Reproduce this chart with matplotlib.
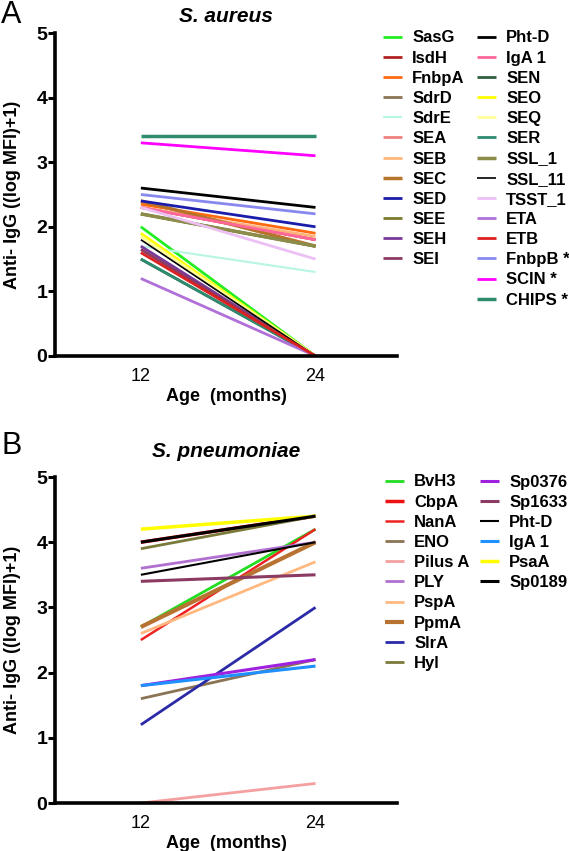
import matplotlib
matplotlib.use("Agg")
import matplotlib.pyplot as plt

plt.rcParams['font.family'] = ['Liberation Sans', 'DejaVu Sans']

ages = [12, 24]
age_labels = ["12", "24"]
y_ticks = [0, 1, 2, 3, 4, 5]

# Panel A: S. aureus
a_names = ["SasG", "IsdH", "FnbpA", "SdrD", "SdrE", "SEA", "SEB", "SEC", "SED", "SEE", "SEH", "SEI",
           "Pht-D", "IgA 1", "SEN", "SEO", "SEQ", "SER", "SSL_1", "SSL_11", "TSST_1", "ETA", "ETB",
           "FnbpB *", "SCIN *", "CHIPS *"]
a_12 = [2.0, 2.3, 2.35, 2.2, 1.7, 2.3, 2.3, 2.4, 2.4, 2.2, 1.7, 1.65,
        2.6, 2.3, 1.5, 1.9, 1.85, 1.5, 2.2, 1.8, 2.3, 1.2, 1.6,
        2.5, 3.3, 3.4]
a_24 = [0.0, 1.8, 1.9, 1.7, 1.3, 1.8, 1.85, 1.7, 2.0, 1.7, 0.0, 0.0,
        2.3, 1.8, 0.0, 0.0, 0.0, 0.0, 1.7, 0.0, 1.5, 0.0, 0.0,
        2.2, 3.1, 3.4]
a_colors = ["#22ee22", "#b22222", "#ff6a10", "#8b7355", "#b8f5e4", "#f08080", "#ffb57a", "#b8732a",
            "#1c1caa", "#7a7a30", "#7a3a9a", "#8b3a62",
            "#000000", "#ff6699", "#2f5f3f", "#ffff00", "#ffff99", "#2e8b70", "#8b8b4a", "#000000",
            "#ecc0f4", "#b070d8", "#dd2020", "#8888f0", "#ff00ff", "#2e8b6e"]
a_widths = [2, 2, 2, 2, 1.5, 2, 2, 2.5, 2, 2, 2, 2,
            2, 2, 2, 2, 2, 2, 2.5, 1.2, 2, 2, 2, 2, 2, 2.5]
a_col1 = 12  # legend entries in first column

# Panel B: S. pneumoniae
b_names = ["BvH3", "CbpA", "NanA", "ENO", "Pilus A", "PLY", "PspA", "PpmA", "SlrA", "Hyl",
           "Sp0376", "Sp1633", "Pht-D", "IgA 1", "PsaA", "Sp0189"]
b_12 = [2.7, 4.0, 2.5, 1.6, 0.0, 3.6, 2.6, 2.7, 1.2, 3.9,
        1.8, 3.4, 3.5, 1.8, 4.2, 4.0]
b_24 = [4.2, 4.4, 4.2, 2.2, 0.3, 4.0, 3.7, 4.0, 3.0, 4.4,
        2.2, 3.5, 4.0, 2.1, 4.4, 4.4]
b_colors = ["#22dd22", "#ee1111", "#ee2222", "#8b7355", "#f4a0a0", "#b070d0", "#ffb980", "#b87333",
            "#2a2aa8", "#7a7a3a", "#a020e0", "#8b3a62", "#000000", "#1e90ff", "#ffff00", "#000000"]
b_widths = [2, 2.5, 1.8, 2, 2, 2, 2, 3, 2, 2, 2.2, 2.2, 1.5, 2.2, 2.5, 2.2]
b_col1 = 10

W, H = 569, 851
fig = plt.figure(figsize=(W / 100, H / 100), dpi=100)

def fx(px):
    return px / W

def fy(py):
    return 1 - py / H

def add_leg(handles, labels, x, y, hl, htp):
    leg = fig.legend(handles, labels, loc='upper left',
                     bbox_to_anchor=(fx(x), fy(y)), ncol=1, frameon=False,
                     prop={'weight': 'bold', 'size': 12}, handlelength=hl, handletextpad=htp,
                     labelspacing=0.31, borderpad=0, borderaxespad=0)
    return leg

def make_panel(rect, names, v12, v24, colors, widths, ncol1, title, tpad, letter, letter_y,
               leg1, leg2):
    ax = fig.add_axes(rect)
    for n, y1, y2, c, w in zip(names, v12, v24, colors, widths):
        ax.plot(ages, [y1, y2], color=c, lw=w, label=n, solid_capstyle='butt')
    ax.set_xlim(6.1, 29.6)
    ax.set_ylim(0, 5)
    ax.set_yticks(y_ticks)
    ax.set_xticks(ages)
    ax.set_xticklabels(age_labels, fontsize=13)
    for lab in ax.get_yticklabels():
        lab.set_fontweight('bold')
        lab.set_fontsize(14)
    ax.tick_params(axis='y', direction='out', length=5, width=2.2, pad=0.5)
    ax.tick_params(axis='x', length=0, pad=8.5)
    for s in ['top', 'right']:
        ax.spines[s].set_visible(False)
    for s in ['left', 'bottom']:
        ax.spines[s].set_linewidth(2.6)
    ax.set_xlabel("Age  (months)", fontsize=13, fontweight='bold', labelpad=2)
    ax.set_ylabel("Anti- IgG ((log MFI)+1)", fontsize=13, fontweight='bold')
    ax.yaxis.set_label_coords((21 - 55) / 342, 0.5)
    ax.set_title(title, fontsize=15, fontweight='bold', fontstyle='italic', pad=tpad)
    fig.text(fx(1), fy(letter_y), letter, fontsize=22, va='center', ha='left')
    h, l = ax.get_legend_handles_labels()
    add_leg(h[:ncol1], l[:ncol1], leg1[0], leg1[1], 1.15, 0.6)
    add_leg(h[ncol1:], l[ncol1:], leg2[0], leg2[1], 1.15, 0.6)
    return ax

rectA = [fx(55), fy(356), fx(397 - 55), (356 - 33) / H]
rectB = [fx(55), fy(803), fx(397 - 55), (803 - 477) / H]
make_panel(rectA, a_names, a_12, a_24, a_colors, a_widths, a_col1, "S. aureus", 8, "A", 15,
           (383, 30.5), (477, 30.5))
make_panel(rectB, b_names, b_12, b_24, b_colors, b_widths, b_col1, "S. pneumoniae", 14.5, "B", 446,
           (385, 474.5), (480, 474.5))

fig.savefig("out.png", dpi=100)
